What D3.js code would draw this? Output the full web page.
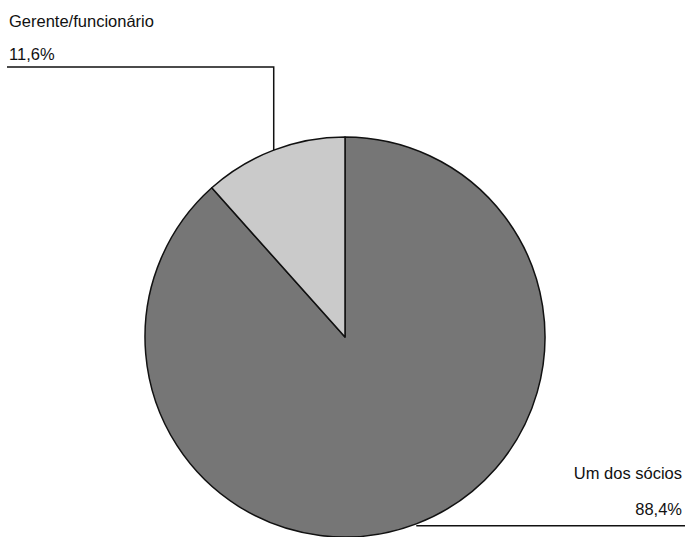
<!DOCTYPE html>
<html><head><meta charset="utf-8">
<script src="https://cdn.jsdelivr.net/npm/d3@7"></script>
<style>body{margin:0;background:#fff}svg{display:block}</style>
</head><body>
<script>
const categories = ["Um dos sócios", "Gerente/funcionário"];
const values = [88.4, 11.6];
const valueLabels = ["88,4%", "11,6%"];
const colors = ["#767676", "#cacaca"];

const W = 685, H = 537, cx = 345, cy = 337, R = 200;
const svg = d3.select("body").append("svg").attr("width", W).attr("height", H);
const data = categories.map((c, i) => ({cat: c, v: values[i], lab: valueLabels[i], col: colors[i]}));
const pie = d3.pie().sort(null).value(d => d.v);
const arcs = pie(data);
const arc = d3.arc().innerRadius(0).outerRadius(R);
const g = svg.append("g").attr("transform", `translate(${cx},${cy})`);
g.selectAll("path").data(arcs).join("path")
  .attr("d", arc).attr("fill", d => d.data.col)
  .attr("stroke", "#111").attr("stroke-width", 1.5).attr("stroke-linejoin", "round");

const font = "Liberation Sans, Arial, sans-serif";
const fs = 16.5;
arcs.forEach((a, i) => {
  const mid = (a.startAngle + a.endAngle) / 2;
  const px = cx + R * Math.sin(mid), py = cy - R * Math.cos(mid);
  if (i === 0) {
    svg.append("path").attr("d", `M${px},${py + 2}H${W}`).attr("fill","none").attr("stroke","#111").attr("stroke-width",1.5);
    svg.append("text").attr("x", 682).attr("y", 479).attr("text-anchor","end").attr("font-family",font).attr("font-size",fs).attr("fill","#111").text(a.data.cat);
    svg.append("text").attr("x", 682).attr("y", 515).attr("text-anchor","end").attr("font-family",font).attr("font-size",fs).attr("fill","#111").text(a.data.lab);
  } else {
    svg.append("path").attr("d", `M${px},${py}V67H7`).attr("fill","none").attr("stroke","#111").attr("stroke-width",1.5);
    svg.append("text").attr("x", 9).attr("y", 27).attr("font-family",font).attr("font-size",fs).attr("fill","#111").text(a.data.cat);
    svg.append("text").attr("x", 9).attr("y", 60).attr("font-family",font).attr("font-size",fs).attr("fill","#111").text(a.data.lab);
  }
});
</script>
</body></html>
